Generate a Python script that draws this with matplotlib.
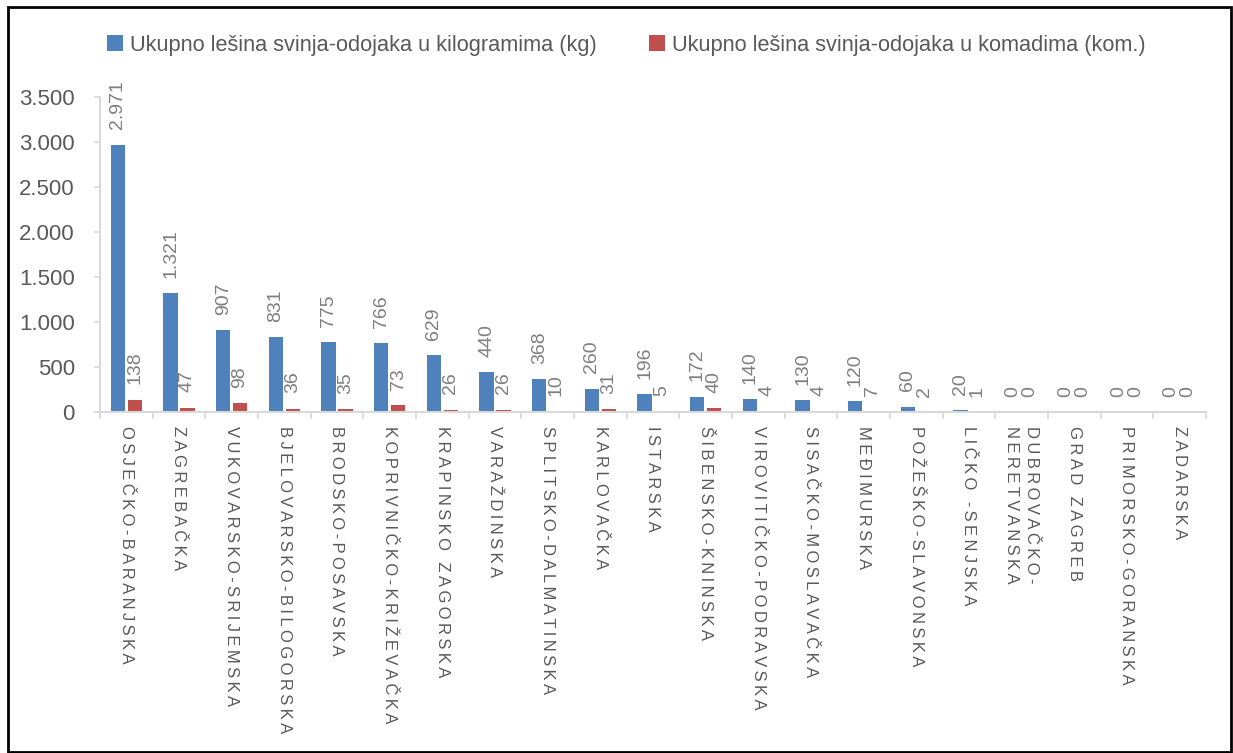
import numpy as np
import matplotlib.pyplot as plt
from matplotlib.patches import Rectangle

plt.rcParams['font.family'] = ['Liberation Sans', 'DejaVu Sans']

# data
zupanije = ['OSJEČKO-BARANJSKA', 'ZAGREBAČKA', 'VUKOVARSKO-SRIJEMSKA',
            'BJELOVARSKO-BILOGORSKA', 'BRODSKO-POSAVSKA', 'KOPRIVNIČKO-KRIŽEVAČKA',
            'KRAPINSKO ZAGORSKA', 'VARAŽDINSKA', 'SPLITSKO-DALMATINSKA',
            'KARLOVAČKA', 'ISTARSKA', 'ŠIBENSKO-KNINSKA', 'VIROVITIČKO-PODRAVSKA',
            'SISAČKO-MOSLAVAČKA', 'MEĐIMURSKA', 'POŽEŠKO-SLAVONSKA', 'LIČKO -SENJSKA',
            'DUBROVAČKO-\nNERETVANSKA', 'GRAD ZAGREB', 'PRIMORSKO-GORANSKA', 'ZADARSKA']
kg = [2971, 1321, 907, 831, 775, 766, 629, 440, 368, 260, 196, 172, 140, 130, 120,
      60, 20, 0, 0, 0, 0]
kom = [138, 47, 98, 36, 35, 73, 26, 26, 10, 31, 5, 40, 4, 4, 7, 2, 1, 0, 0, 0, 0]
yticks = [0, 500, 1000, 1500, 2000, 2500, 3000, 3500]

label_kg = 'Ukupno lešina svinja-odojaka u kilogramima (kg)'
label_kom = 'Ukupno lešina svinja-odojaka u komadima (kom.)'

blue = '#4F81BD'
red = '#C0504D'
axis_grey = '#D9D9D9'
text_grey = '#595959'
val_grey = '#7F7F7F'


def fmt(v):
    # croatian thousands separator
    return '{:,}'.format(v).replace(',', '.')


def spaced(s):
    # excel-like letter spacing on category labels
    return '\n'.join('\u2009'.join(line) for line in s.split('\n'))


W, H = 1233, 753
fig = plt.figure(figsize=(W / 100, H / 100), dpi=100)
ax = fig.add_axes([100 / W, 1 - 412 / H, 1106 / W, 315 / H])

x = np.arange(len(zupanije))
bw = 0.27
b1 = ax.bar(x - 0.16, kg, bw, color=blue, label=label_kg)
b2 = ax.bar(x + 0.16, kom, bw, color=red, label=label_kom)

for bars, vals in ((b1, kg), (b2, kom)):
    for rect, v in zip(bars, vals):
        ax.annotate(fmt(v), (rect.get_x() + rect.get_width() / 2, v),
                    xytext=(0, 11), textcoords='offset points',
                    rotation=90, ha='center', va='bottom',
                    fontsize=14, color=val_grey)

ax.set_xlim(-0.5, len(zupanije) - 0.5)
ax.set_ylim(0, 3500)
ax.set_yticks(yticks)
ax.set_yticklabels([fmt(v) for v in yticks], fontsize=16, color=text_grey)

# category separators as ticks, labels at centres
ax.set_xticks(np.arange(len(zupanije) + 1) - 0.5)
ax.set_xticklabels([])
ax.set_xticks(x, minor=True)
ax.set_xticklabels([spaced(z) for z in zupanije], minor=True, rotation=-90,
                   ha='center', va='top', fontsize=12, color=text_grey,
                   linespacing=1.45)
ax.tick_params(axis='x', which='major', length=5, color=axis_grey, width=1.2)
ax.tick_params(axis='x', which='minor', length=0, pad=10)
ax.tick_params(axis='y', length=4, color=axis_grey, width=1.2, pad=14)

for side in ('top', 'right'):
    ax.spines[side].set_visible(False)
for side in ('left', 'bottom'):
    ax.spines[side].set_color(axis_grey)
    ax.spines[side].set_linewidth(1.5)

leg = fig.legend(handles=[b1, b2], loc='center', ncol=2,
                 bbox_to_anchor=(626 / W, 1 - 45 / H), frameon=False,
                 fontsize=15.7, handlelength=0.75, handleheight=0.75,
                 handletextpad=0.3, columnspacing=2.4, labelcolor=text_grey)

# outer frame
fig.patches.append(Rectangle((8 / W, 1 / H), 1223 / W, 745 / H,
                             transform=fig.transFigure, fill=False,
                             edgecolor='black', linewidth=2))

fig.savefig('out.png', dpi=100)
